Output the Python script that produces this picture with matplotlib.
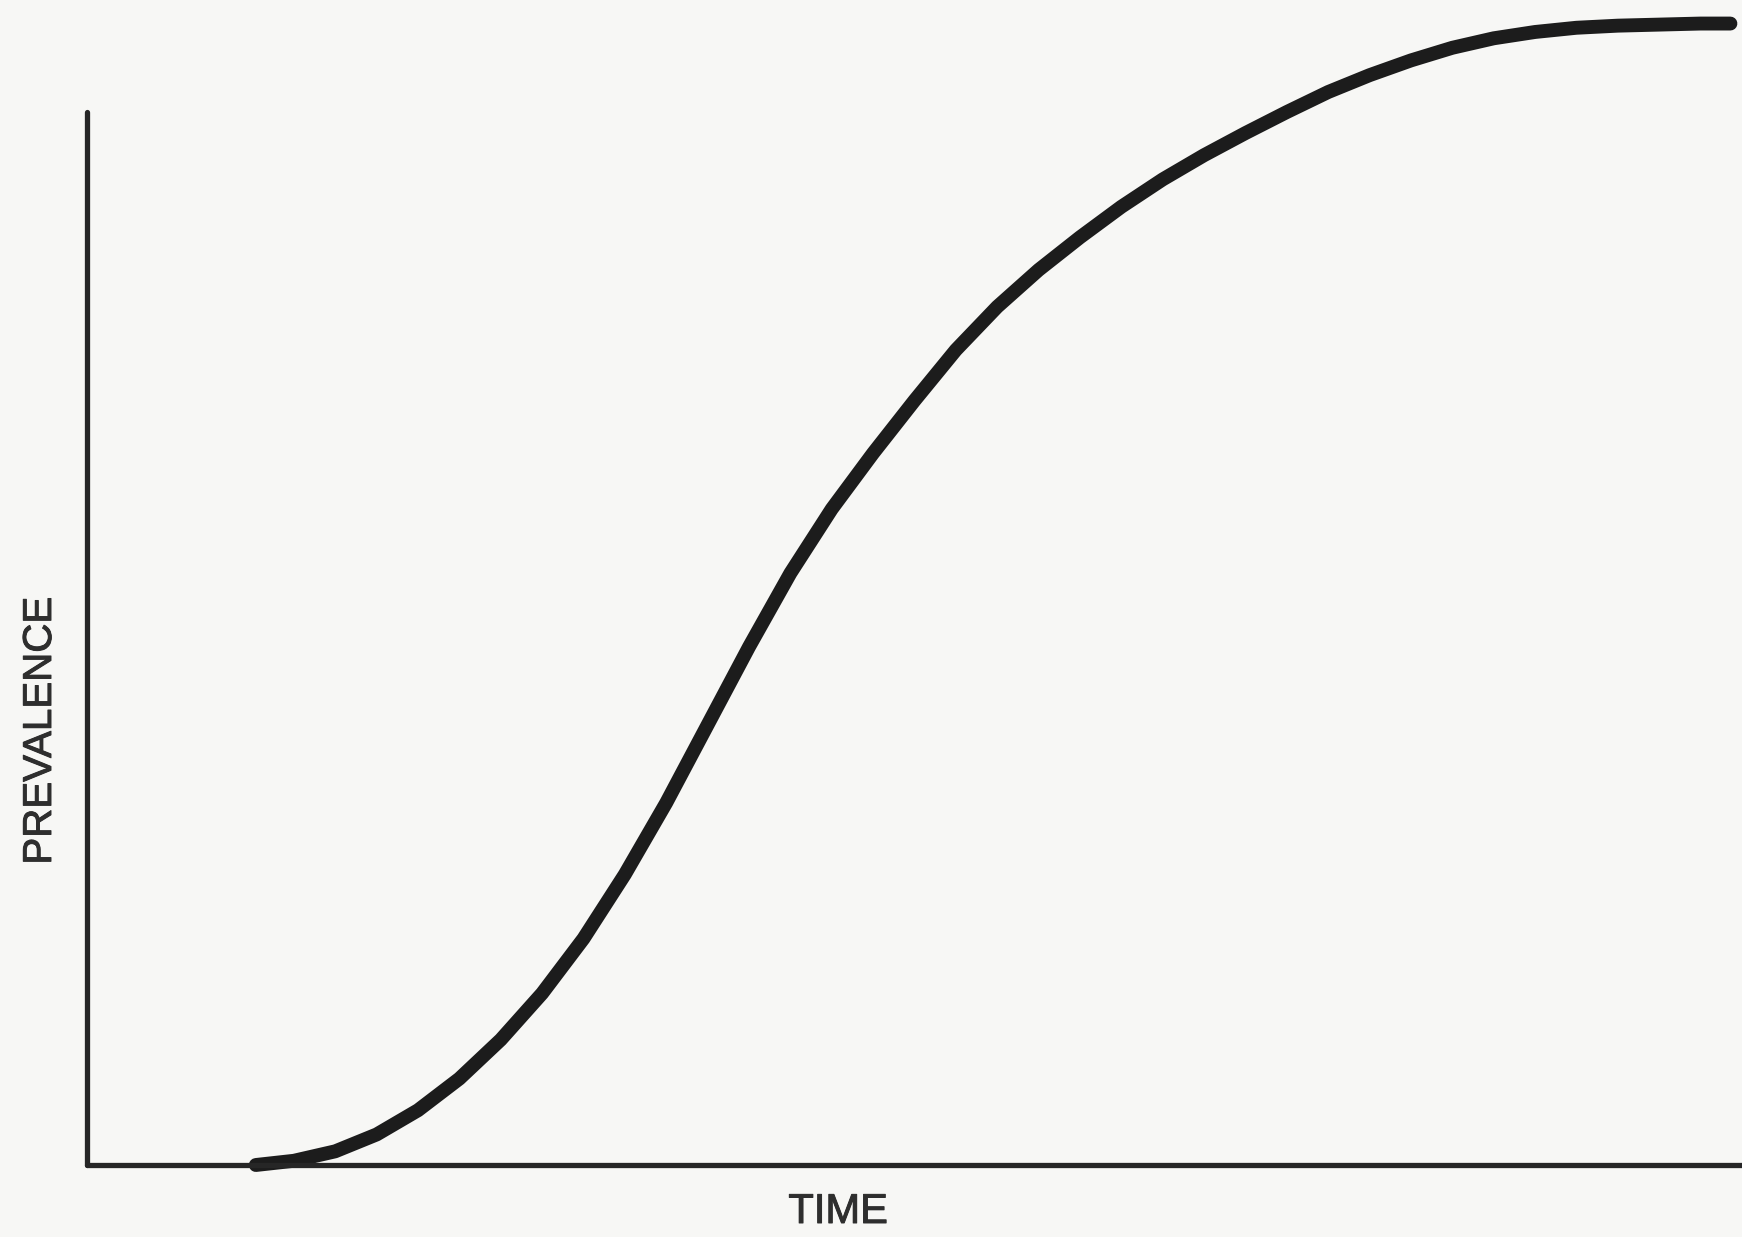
import matplotlib.pyplot as plt
import matplotlib.patheffects as pe

# S-shaped prevalence curve (x: % of axis width, y: % of axis height)
time = [10.2, 12.5, 15.0, 17.5, 20.0, 22.5, 25.0, 27.5, 30.0, 32.5, 35.0,
        37.5, 40.0, 42.5, 45.0, 47.5, 50.0, 52.5, 55.0, 57.5, 60.0, 62.5,
        65.0, 67.5, 70.0, 72.5, 75.0, 77.5, 80.0, 82.5, 85.0, 87.5, 90.0,
        92.5, 95.0, 97.5, 99.3]
prevalence = [0.0, 0.4, 1.3, 2.9, 5.2, 8.2, 11.9, 16.3, 21.5, 27.6, 34.4,
              41.8, 49.2, 56.2, 62.3, 67.6, 72.6, 77.4, 81.5, 85.0, 88.1, 91.0,
              93.6, 95.9, 98.0, 100.0, 101.9, 103.5, 104.9, 106.1, 107.0, 107.6, 108.0,
              108.2, 108.3, 108.4, 108.4]

x_label = "TIME"
y_label = "PREVALENCE"

bg = "#f7f7f5"
ink = "#1c1c1c"

fig = plt.figure(figsize=(17.42, 12.37), dpi=100, facecolor=bg)
ax = fig.add_axes([87 / 1742, 72 / 1237, 1655 / 1742, 1053 / 1237])
ax.set_facecolor(bg)

ax.plot(time, prevalence, color=ink, linewidth=10,
        solid_capstyle="round", solid_joinstyle="round", clip_on=False)

ax.set_xlim(0, 100)
ax.set_ylim(0, 100)

# only the two hand-drawn axes, no ticks
ax.spines["top"].set_visible(False)
ax.spines["right"].set_visible(False)
for side in ["left", "bottom"]:
    ax.spines[side].set_linewidth(3.8)
    ax.spines[side].set_color("#262626")
    ax.spines[side].set_capstyle("round")
ax.set_xticks([])
ax.set_yticks([])

# the scanned lettering is slightly heavier than a plain regular face
thick = [pe.withStroke(linewidth=0.7, foreground="#2e2e2e")]
fig.text(838 / 1742, 1 - 1212 / 1237, x_label, ha="center", va="center",
         fontsize=30, family="Liberation Sans", color="#2e2e2e", path_effects=thick)
fig.text(40 / 1742, 1 - 731 / 1237, y_label, ha="center", va="center",
         rotation=90, fontsize=29, family="Liberation Sans", color="#2e2e2e",
         path_effects=thick)

fig.savefig("out.png", dpi=100, facecolor=bg)
